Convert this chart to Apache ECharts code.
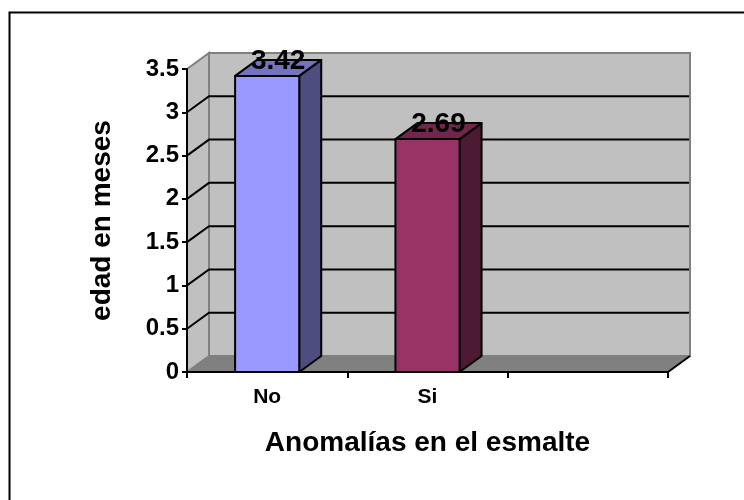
<!DOCTYPE html>
<html>
<head>
<meta charset="utf-8">
<script src="https://cdn.jsdelivr.net/npm/echarts@6/dist/echarts.min.js"></script>
<style>
  html, body { margin: 0; padding: 0; background: #fff; overflow: hidden; }
  #chart { width: 744px; height: 500px; }
</style>
</head>
<body>
<div id="chart"></div>
<script>
// data
const categories = ["No", "Si", ""];
const edadMeses = [3.42, 2.69];
const gridValues = [0.5, 1, 1.5, 2, 2.5, 3];

// look of the 3D columns
const frontColors = ["#9999FF", "#993366"];
const sideColors = ["#4D4D80", "#4D1A33"];
const topColors = ["#7373BF", "#73264D"];
const DX = 22;
const DY = -16;
const FONT = "Liberation Sans, Arial, sans-serif";

const chart = echarts.init(document.getElementById("chart"));

function renderWalls(params, api) {
  const cs = params.coordSys;
  const x0 = cs.x, x1 = cs.x + cs.width;
  const yT = cs.y, yB = cs.y + cs.height;
  const wall = { fill: "#C0C0C0", stroke: "#808080", lineWidth: 2 };
  return {
    type: "group",
    children: [
      {
        type: "polygon",
        shape: { points: [[x0 + DX, yT + DY], [x1 + DX, yT + DY], [x1 + DX, yB + DY], [x0 + DX, yB + DY]] },
        style: wall
      },
      {
        type: "polygon",
        shape: { points: [[x0, yT], [x0 + DX, yT + DY], [x0 + DX, yB + DY], [x0, yB]] },
        style: wall
      },
      {
        type: "polygon",
        shape: { points: [[x0, yB], [x1, yB], [x1 + DX, yB + DY], [x0 + DX, yB + DY]] },
        style: { fill: "#808080", stroke: "#808080", lineWidth: 1 }
      },
      {
        type: "line",
        shape: { x1: x1, y1: yB, x2: x1 + DX, y2: yB + DY },
        style: { stroke: "#000", lineWidth: 2 }
      }
    ]
  };
}

function renderGrid(params, api) {
  const cs = params.coordSys;
  const x0 = cs.x, x1 = cs.x + cs.width;
  const y = api.coord([0, api.value(0)])[1];
  return {
    type: "polyline",
    shape: { points: [[x0, y], [x0 + DX, y + DY], [x1 + DX - 1, y + DY]] },
    style: { stroke: "#000", lineWidth: 2, fill: null }
  };
}

function renderBar(params, api) {
  const i = params.dataIndex;
  const top = api.coord([api.value(0), api.value(1)]);
  const base = api.coord([api.value(0), 0]);
  const w = api.size([1, 0])[0] * 0.4;
  const xl = top[0] - w / 2, xr = top[0] + w / 2;
  const yt = top[1], yb = base[1];
  const edge = { stroke: "#000", lineWidth: 2, lineJoin: "round" };
  return {
    type: "group",
    children: [
      {
        type: "polygon",
        shape: { points: [[xr, yt], [xr + DX, yt + DY], [xr + DX, yb + DY], [xr, yb]] },
        style: Object.assign({ fill: sideColors[i] }, edge)
      },
      {
        type: "polygon",
        shape: { points: [[xl, yt], [xr, yt], [xr + DX, yt + DY], [xl + DX, yt + DY]] },
        style: Object.assign({ fill: topColors[i] }, edge)
      },
      {
        type: "rect",
        shape: { x: xl, y: yt, width: w, height: yb - yt },
        style: Object.assign({ fill: frontColors[i] }, edge)
      },
      {
        type: "text",
        x: top[0] + DX / 2,
        y: yt + DY + 1,
        style: {
          text: String(api.value(1)),
          fill: "#000",
          font: "bold 28px " + FONT,
          align: "center",
          verticalAlign: "middle"
        },
        z2: 10
      }
    ]
  };
}

chart.setOption({
  animation: false,
  backgroundColor: "#fff",
  graphic: [
    {
      type: "rect",
      left: 7,
      top: 10,
      shape: { width: 780, height: 540 },
      style: { fill: null, stroke: "#000", lineWidth: 2 },
      z: -10
    }
  ],
  grid: { left: 187, right: 76, top: 69, bottom: 128 },
  xAxis: {
    type: "category",
    data: categories,
    z: 10,
    axisLine: { lineStyle: { color: "#000", width: 2 } },
    axisTick: { show: true, length: 6, interval: 0, lineStyle: { color: "#000", width: 2 } },
    axisLabel: { color: "#000", fontFamily: FONT, fontWeight: "bold", fontSize: 21, margin: 15, interval: 0 },
    name: "Anomalías en el esmalte",
    nameLocation: "middle",
    nameGap: 57,
    nameTextStyle: { color: "#000", fontFamily: FONT, fontWeight: "bold", fontSize: 28 }
  },
  yAxis: {
    type: "value",
    min: 0,
    max: 3.5,
    interval: 0.5,
    z: 10,
    axisLine: { show: true, lineStyle: { color: "#000", width: 2 } },
    axisTick: { show: true, length: 5, lineStyle: { color: "#000", width: 2 } },
    splitLine: { show: false },
    axisLabel: { color: "#000", fontFamily: FONT, fontWeight: "bold", fontSize: 24, margin: 8 },
    name: "edad en meses",
    nameLocation: "middle",
    nameGap: 71,
    nameTextStyle: { color: "#000", fontFamily: FONT, fontWeight: "bold", fontSize: 28 }
  },
  series: [
    { type: "custom", renderItem: renderWalls, data: [[0]], z: 1, silent: true },
    { type: "custom", renderItem: renderGrid, data: gridValues.map(v => [v]), z: 2, silent: true },
    { type: "custom", renderItem: renderBar, data: edadMeses.map((v, i) => [i, v]), z: 3 }
  ]
});
</script>
</body>
</html>
